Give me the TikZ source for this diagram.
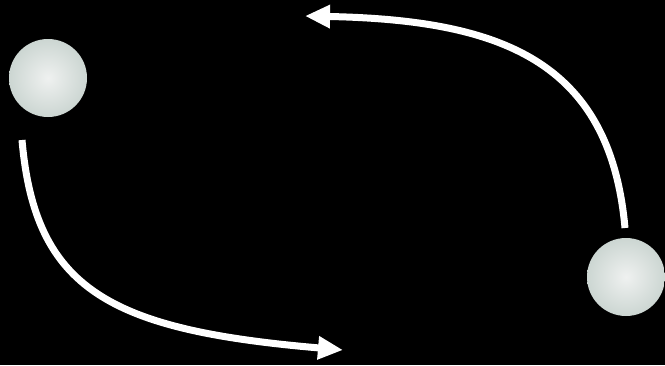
\documentclass[tikz,border=0pt]{standalone}
\usepackage{tikz}
\usetikzlibrary{positioning,arrows.meta}
\definecolor{ballrim}{HTML}{CCD6D2}
\definecolor{ballmid}{HTML}{EFF1F0}

\begin{document}
\begin{tikzpicture}[x=1pt, y=-1pt,
  ball/.style={circle, minimum size=78pt, inner sep=0pt, inner color=ballmid, outer color=ballrim},
  flow/.style={white, line width=7pt, -{Triangle[length=25pt,width=22pt]}}]
\fill[black] (0,0) rectangle (665,365);
\useasboundingbox (0,0) rectangle (665,365);

\node[ball] (left) at (48,78) {};
\node[ball] (right) at (626,277) {};

\coordinate (lstart) at (22,140);
\coordinate (lend) at (343,350);
\coordinate (rstart) at (625,228);
\coordinate (rend) at (305,16);

\draw[flow] (lstart) .. controls (35,290) and (110,330) .. (lend);
\draw[flow] (rstart) .. controls (610,60) and (500,20) .. (rend);
\end{tikzpicture}
\end{document}
